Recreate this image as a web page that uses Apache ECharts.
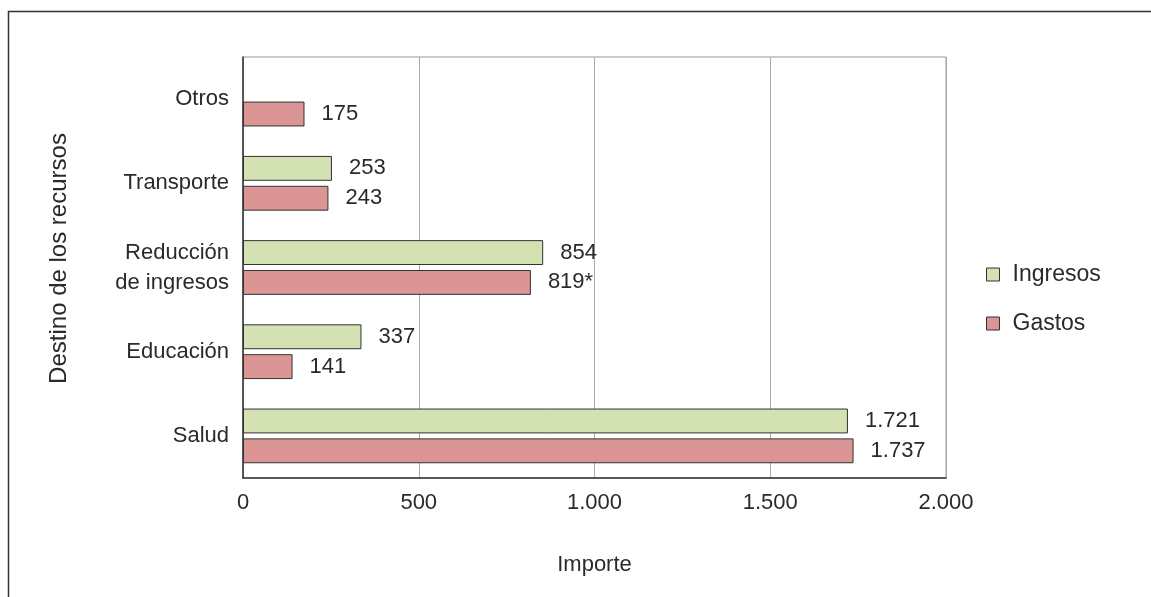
<!DOCTYPE html>
<html><head><meta charset="utf-8">
<script src="https://cdn.jsdelivr.net/npm/echarts@6/dist/echarts.min.js"></script>
<style>html,body{margin:0;padding:0;background:#fff}#c{width:1151px;height:597px}</style>
</head><body><div id="c"></div>
<script>
const categories = ['Salud', 'Educación', 'Reducción\nde ingresos', 'Transporte', 'Otros'];
const ingresos = [1721, 337, 854, 253, null];
const gastos = [1737, 141, 819, 243, 175];
const gastosLabels = ['1.737', '141', '819*', '243', '175'];
const xTicks = [0, 500, 1000, 1500, 2000];

const FONT = 'Liberation Sans';
const TXT = '#2a2a2a';
const FS = 22;
function fmt(v){ return String(v).replace(/\B(?=(\d{3})+(?!\d))/g, '.'); }

const chart = echarts.init(document.getElementById('c'));
chart.setOption({
  animation: false,
  textStyle: { fontFamily: FONT, color: TXT },
  graphic: [{
    type: 'rect', shape: { x: 8.5, y: 11.5, width: 1200, height: 700 },
    style: { fill: 'none', stroke: '#333', lineWidth: 1.5 }, silent: true
  }],
  grid: { left: 243, right: 205, top: 57, bottom: 119, show: true, borderColor: '#999', borderWidth: 1 },
  legend: {
    orient: 'vertical', left: 981, top: 258, itemWidth: 13, itemHeight: 13, itemGap: 26,
    icon: 'rect',
    data: ['Ingresos', 'Gastos'],
    itemStyle: { borderColor: '#333', borderWidth: 1 },
    textStyle: { fontFamily: FONT, fontSize: 23, color: TXT, padding: [0, 0, 0, 8] }
  },
  xAxis: {
    type: 'value', min: 0, max: 2000, interval: 500,
    name: 'Importe', nameLocation: 'middle', nameGap: 76,
    nameTextStyle: { fontFamily: FONT, fontSize: FS, color: TXT },
    axisLine: { show: true, lineStyle: { color: '#333', width: 1.5 } },
    axisTick: { show: false },
    splitLine: { show: true, lineStyle: { color: '#aaa', width: 1 } },
    axisLabel: { margin: 14, fontFamily: FONT, fontSize: FS, color: TXT,
      formatter: v => xTicks.includes(v) ? fmt(v) : '' }
  },
  yAxis: {
    type: 'category', data: categories,
    name: 'Destino de los recursos', nameLocation: 'middle', nameGap: 172,
    nameTextStyle: { fontFamily: FONT, fontSize: 24, color: TXT, padding: [0, 0, 0, 18] },
    axisLine: { show: true, lineStyle: { color: '#333', width: 1.5 } },
    axisTick: { show: false },
    axisLabel: { margin: 14, fontFamily: FONT, fontSize: FS, color: TXT, lineHeight: 30, align: 'right' }
  },
  series: [
    {
      name: 'Ingresos', type: 'bar', data: ingresos,
      barCategoryGap: '35%', barGap: '20%',
      itemStyle: { color: '#d3e1b3', borderColor: '#333', borderWidth: 1 },
      label: { show: true, position: 'right', distance: 17, fontFamily: FONT, fontSize: FS, color: TXT,
        formatter: p => fmt(p.value) }
    },
    {
      name: 'Gastos', type: 'bar', data: gastos,
      barCategoryGap: '35%', barGap: '20%',
      itemStyle: { color: '#da9594', borderColor: '#333', borderWidth: 1 },
      label: { show: true, position: 'right', distance: 17, fontFamily: FONT, fontSize: FS, color: TXT,
        formatter: p => gastosLabels[p.dataIndex] }
    }
  ]
});
</script></body></html>
